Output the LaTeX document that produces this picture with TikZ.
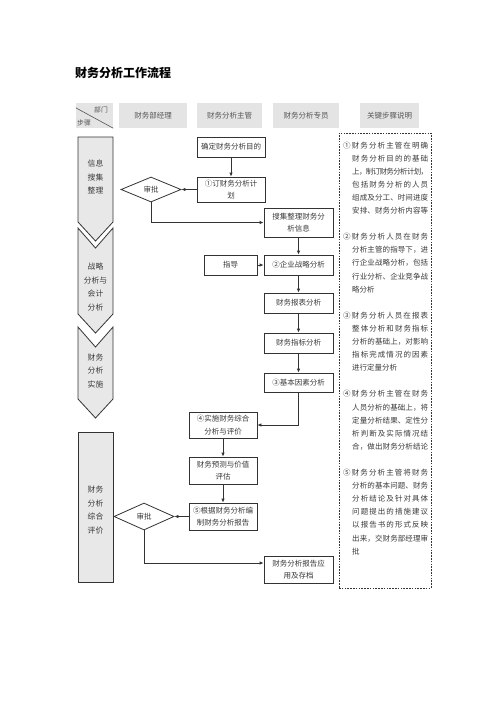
\documentclass[tikz,border=0pt]{standalone}
\usepackage{fontspec}
\setmainfont{Noto Sans CJK SC}
\usetikzlibrary{arrows.meta,shapes.geometric}
\definecolor{ln}{HTML}{333333}
\definecolor{hd}{HTML}{E4E4E4}
\definecolor{chev}{HTML}{E8E8E8}
\definecolor{tx}{HTML}{3A3A3A}
\definecolor{htx}{HTML}{555555}
\makeatletter
\def\jchars#1{\jch@a#1\relax}
\def\jch@a#1{#1\jch@b}
\def\jch@b#1{\ifx#1\relax\else\hskip 0pt plus 1fil minus 1fil\relax#1\expandafter\jch@b\fi}
\makeatother
\newcommand\jfull[2]{\makebox[#1][s]{\jchars{#2}}}
\tikzset{
  flowbox/.style={draw=ln, line width=0.8pt, fill=white, inner sep=0pt, align=center,
    text=tx, font=\fontsize{7.5}{12.5}\selectfont},
  dia/.style={diamond, draw=ln, line width=0.8pt, fill=white, inner sep=0pt, aspect=2.4,
    text=tx, font=\fontsize{7.5}{9}\selectfont},
  hcell/.style={fill=hd, inner sep=0pt, text=htx, font=\fontsize{7.5}{9}\selectfont},
  chevshape/.style={draw=ln, line width=0.8pt, fill=chev},
  chevtext/.style={inner sep=0pt, align=center, text=tx, font=\fontsize{7.8}{13.4}\selectfont},
  arr/.style={draw=ln, line width=0.8pt, -{Latex[length=4pt,width=3.5pt]}},
  note/.style={anchor=base west, inner sep=0pt, text=tx, font=\fontsize{7.5}{9}\selectfont},
}
\newcommand\noteF[3]{\node[note] (#1) at (343,{148+13.1*#2}) {\jfull{85pt}{#3}};}
\newcommand\noteR[3]{\node[note] (#1) at (352,{148+13.1*#2}) {\jfull{76pt}{#3}};}
\newcommand\noteL[3]{\node[note] (#1) at (352,{148+13.1*#2}) {#3};}
\begin{document}
\begin{tikzpicture}[x=1pt, y=-1pt]
\fill[white] (0,0) rectangle (500,707);
\useasboundingbox (0,0) rectangle (500,707);

% title
\node[anchor=west, inner sep=0pt, font=\fontsize{12}{14}\selectfont\bfseries] (title) at (75,73) {财务分析工作流程};

% header
\node[hcell, minimum width=37pt, minimum height=25pt] (hstep) at (94.5,115.5) {};
\draw[draw=htx, line width=0.6pt] ([yshift=-5pt]hstep.north west) -- (hstep.south east);
\node[inner sep=0pt, text=htx, font=\fontsize{6.8}{8}\selectfont] (hdept) at (101,109.5) {部门};
\node[inner sep=0pt, text=htx, font=\fontsize{6.8}{8}\selectfont] (hsteps) at (84,123) {步骤};
\node[hcell, minimum width=68pt, minimum height=25pt] (h1) at (153,115.5) {财务部经理};
\node[hcell, minimum width=65pt, minimum height=25pt] (h2) at (229.5,115.5) {财务分析主管};
\node[hcell, minimum width=66pt, minimum height=25pt] (h3) at (306,115.5) {财务分析专员};
\node[hcell, minimum width=59pt, minimum height=25pt] (h4) at (389.5,115.5) {关键步骤说明};

% left phase column
\draw[chevshape] (78,137) -- (113,137) -- (113,222) -- (95.5,241) -- (78,222) -- cycle;
\draw[chevshape] (78,228) -- (95.5,248) -- (113,228) -- (113,314) -- (95.5,333) -- (78,314) -- cycle;
\draw[chevshape] (78,327) -- (95.5,347) -- (113,327) -- (113,399) -- (95.5,418) -- (78,399) -- cycle;
\draw[chevshape] (78,432) rectangle (113,582);
\node[chevtext] (ph1) at (95.5,177) {信息\\搜集\\整理};
\node[chevtext] (ph2) at (95.5,287) {战略\\分析与\\会计\\分析};
\node[chevtext] (ph3) at (95.5,371) {财务\\分析\\实施};
\node[chevtext] (ph4) at (95.5,510) {财务\\分析\\综合\\评价};

% flow nodes
\node[flowbox, minimum width=68pt, minimum height=20pt] (goal) at (231,147) {确定财务分析目的};
\node[flowbox, minimum width=68pt, minimum height=25pt] (plan) at (231,189.5) {①订财务分析计\\划};
\node[dia, minimum width=60pt, minimum height=25pt] (sp1) at (151,189.5) {审批};
\node[flowbox, minimum width=69pt, minimum height=29pt] (collect) at (298.5,222.5) {搜集整理财务分\\析信息};
\node[flowbox, minimum width=53pt, minimum height=20pt] (guide) at (230.5,265) {指导};
\node[flowbox, minimum width=69pt, minimum height=20pt] (strat) at (298.5,265) {②企业战略分析};
\node[flowbox, minimum width=69pt, minimum height=20pt] (stmt) at (298.5,303) {财务报表分析};
\node[flowbox, minimum width=69pt, minimum height=20pt] (index) at (298.5,343) {财务指标分析};
\node[flowbox, minimum width=69pt, minimum height=19pt] (factor) at (298.5,382.5) {③基本因素分析};
\node[flowbox, minimum width=68pt, minimum height=26pt] (synth) at (223,425) {④实施财务综合\\分析与评价};
\node[flowbox, minimum width=68pt, minimum height=27pt] (fore) at (223,470.5) {财务预测与价值\\评估};
\node[flowbox, minimum width=68pt, minimum height=27pt] (report) at (223,516.5) {⑤根据财务分析编\\制财务分析报告};
\node[dia, minimum width=60pt, minimum height=27pt] (sp2) at (144,516.5) {审批};
\node[flowbox, minimum width=69pt, minimum height=27pt] (arch) at (298.5,569.5) {财务分析报告应\\用及存档};

% connectors
\draw[arr] (goal) -- (plan);
\draw[arr] (plan) -- (sp1);
\draw[arr] (sp1.south) |- (collect.west);
\draw[arr] (collect) -- (strat);
\draw[arr] (guide) -- (strat);
\draw[arr] (strat) -- (stmt);
\draw[arr] (stmt) -- (index);
\draw[arr] (index) -- (factor);
\draw[arr] (factor.south) |- (synth.east);
\draw[arr] (synth) -- (fore);
\draw[arr] (fore) -- (report);
\draw[arr] (report) -- (sp2);
\draw[arr] (sp2.south) |- ([yshift=6.5pt]arch.west);

% notes box
\node[draw=ln, line width=0.7pt, dash pattern=on 1.6pt off 1.2pt, inner sep=0pt,
      minimum width=92pt, minimum height=455pt] (notes) at (385,360.5) {};
\noteF{n0}{0}{①财务分析主管在明确}
\noteR{n1}{1}{财务分析目的的基础}
\noteR{n2}{2}{上，制订财务分析计划，}
\noteR{n3}{3}{包括财务分析的人员}
\noteR{n4}{4}{组成及分工、时间进度}
\noteR{n5}{5}{安排、财务分析内容等}
\noteF{n7}{7}{②财务分析人员在财务}
\noteR{n8}{8}{分析主管的指导下，进}
\noteR{n9}{9}{行企业战略分析，包括}
\noteR{n10}{10}{行业分析、企业竞争战}
\noteL{n11}{11}{略分析}
\noteF{n13}{13}{③财务分析人员在报表}
\noteR{n14}{14}{整体分析和财务指标}
\noteR{n15}{15}{分析的基础上，对影响}
\noteR{n16}{16}{指标完成情况的因素}
\noteL{n17}{17}{进行定量分析}
\noteF{n19}{19}{④财务分析主管在财务}
\noteR{n20}{20}{人员分析的基础上，将}
\noteR{n21}{21}{定量分析结果、定性分}
\noteR{n22}{22}{析判断及实际情况结}
\noteR{n23}{23}{合，做出财务分析结论}
\noteF{n25}{25}{⑤财务分析主管将财务}
\noteR{n26}{26}{分析的基本问题、财务}
\noteR{n27}{27}{分析结论及针对具体}
\noteR{n28}{28}{问题提出的措施建议}
\noteR{n29}{29}{以报告书的形式反映}
\noteR{n30}{30}{出来，交财务部经理审}
\noteL{n31}{31}{批}
\end{tikzpicture}
\end{document}
